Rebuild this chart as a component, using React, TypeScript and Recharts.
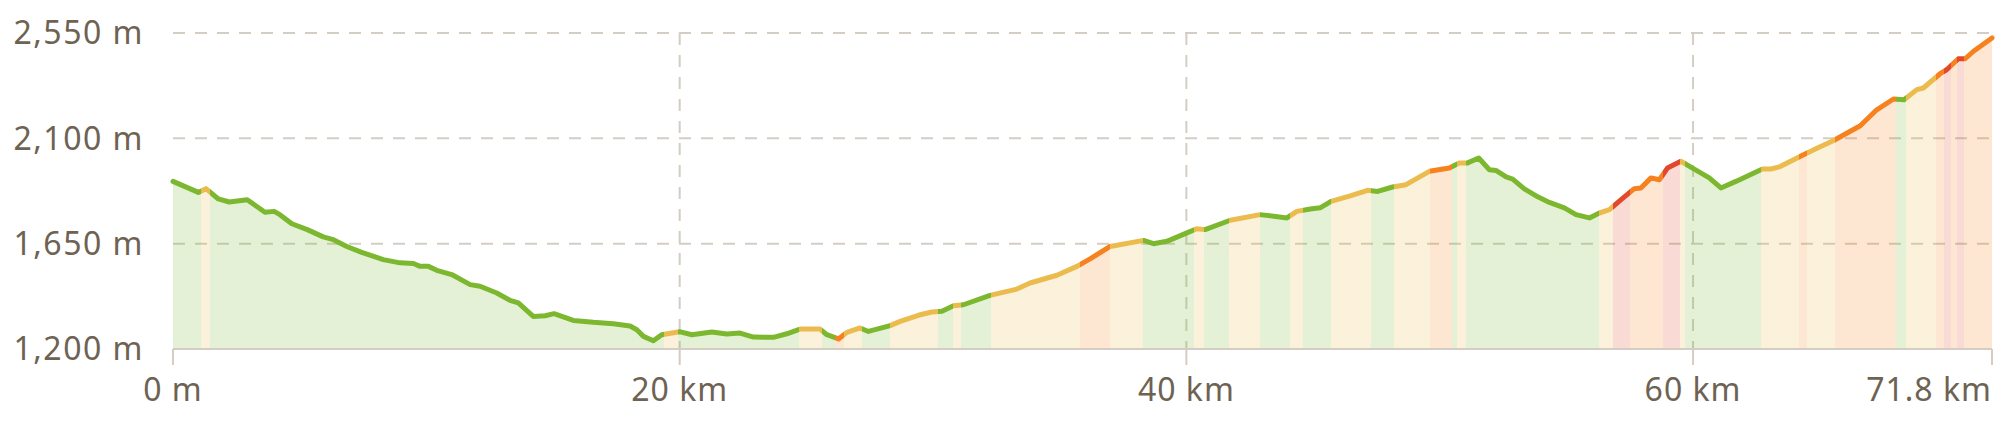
import { AreaChart, Area, XAxis, YAxis, CartesianGrid } from "recharts";

// distance along route (km) and elevation (m)
const distKm = [
  0, 1.0, 1.3, 1.79, 2.22, 2.93, 3.63, 3.99, 4.22, 4.69, 5.3, 5.93, 6.33, 6.86, 7.45, 8.3, 8.96,
  9.49, 9.75, 10.08, 10.41, 11.0, 11.73, 12.12, 12.78, 13.3, 13.63, 14.22, 14.69, 15.04, 15.8,
  16.59, 17.38, 18.04, 18.31, 18.57, 18.96, 19.29, 19.99, 20.48, 21.27, 21.86, 22.38, 22.91,
  23.7, 24.23, 24.75, 25.54, 25.81, 26.27, 26.6, 27.12, 27.45, 28.31, 28.7, 29.42, 29.95, 30.35,
  30.81, 31.2, 32.25, 33.31, 33.83, 34.89, 35.68, 36.2, 36.99, 38.31, 38.7, 39.23, 40.02, 40.41,
  40.74, 41.73, 42.91, 43.97, 44.36, 44.89, 45.28, 45.71, 46.5, 47.15, 47.55, 48.14, 48.67,
  49.59, 50.38, 50.77, 51.1, 51.54, 51.96, 52.22, 52.62, 52.88, 53.34, 53.87, 54.33, 54.92,
  55.38, 55.91, 56.3, 56.7, 57.16, 57.68, 57.94, 58.34, 58.67, 58.99, 59.52, 59.98, 60.64,
  61.1, 61.69, 62.74, 63.07, 63.4, 64.36, 64.89, 65.55, 66.6, 67.25, 67.91, 68.33, 68.83,
  69.09, 69.75, 70.01, 70.47, 70.74, 71.07, 71.8,
];
const elevM = [
  1916, 1869, 1885, 1841, 1828, 1838, 1784, 1788, 1774, 1735, 1710, 1679, 1667, 1638, 1613, 1582, 1568,
  1565, 1553, 1553, 1536, 1518, 1475, 1468, 1439, 1408, 1397, 1339, 1342, 1351, 1322,
  1314, 1308, 1298, 1282, 1254, 1235, 1261, 1274, 1261, 1273, 1264, 1268, 1251,
  1250, 1265, 1285, 1285, 1261, 1243, 1271, 1290, 1275, 1300, 1318, 1344, 1358, 1361,
  1385, 1389, 1429, 1456, 1482, 1515, 1553, 1585, 1638, 1664, 1650, 1660, 1696, 1714,
  1710, 1750, 1774, 1760, 1788, 1798, 1803, 1831, 1855, 1878, 1873, 1892, 1902,
  1959, 1973, 1995, 1995, 2016, 1966, 1963, 1935, 1926, 1884, 1850, 1826, 1803,
  1774, 1760, 1781, 1795, 1838, 1885, 1888, 1931, 1923, 1973, 2002, 1973, 1931,
  1888, 1916, 1969, 1969, 1978, 2030, 2058, 2091, 2154, 2222, 2268, 2265, 2308,
  2315, 2376, 2393, 2440, 2440, 2472, 2529,
];

// slope classes: segment start (km) and level (0 easy .. 3 steep)
const gradeStartKm = [
  0, 1.1, 1.45, 19.4, 19.95, 24.7, 25.6, 26.15, 26.5, 27.2, 28.3, 30.2, 30.8, 31.1, 32.3, 35.8,
  37.0, 38.3, 40.3, 40.7, 41.7, 42.9, 44.1, 44.6, 45.7, 47.3, 48.2, 49.6, 50.5, 50.7, 51.05,
  56.3, 56.85, 57.5, 58.8, 59.5, 59.7, 62.7, 64.2, 64.5, 65.6, 68.0, 68.4, 69.6, 69.9, 70.2,
  70.4, 70.7,
];
const gradeLevel = [
  0, 1, 0, 1, 0, 1, 0, 2, 1, 0, 1, 0, 1, 0, 1, 2,
  1, 0, 1, 0, 1, 0, 1, 0, 1, 0, 1, 2, 0, 1, 0,
  1, 3, 2, 3, 1, 0, 1, 2, 1, 2, 0, 1, 2, 3, 2,
  3, 2,
];
const gradeColors = ["#7cb82f", "#ebbb4e", "#f5821f", "#e2492c"];

const xTicks = [0, 20, 40, 60, 71.8];
const yTicks = [1200, 1650, 2100, 2550];

const totalKm = distKm[distKm.length - 1];
const data = distKm.map((km, i) => ({ km, elev: elevM[i] }));

const textColor = "#6e6253";
const lineGrey = "#d3cdc4";
const font = "'Noto Sans', sans-serif";

const stops = gradeStartKm.flatMap((start, i) => {
  const end = i + 1 < gradeStartKm.length ? gradeStartKm[i + 1] : totalKm;
  const c = gradeColors[gradeLevel[i]];
  return [
    <stop key={`${i}a`} offset={start / totalKm} stopColor={c} />,
    <stop key={`${i}b`} offset={end / totalKm} stopColor={c} />,
  ];
});

const fmtKm = (v: number) => (v === 0 ? "0 m" : `${v} km`);

function XTick(props: any) {
  const { x, y, payload } = props;
  const last = payload.value === totalKm;
  return (
    <text
      x={x}
      y={y}
      dy="0.71em"
      textAnchor={last ? "end" : "middle"}
      fill={textColor}
      fontSize={32}
      letterSpacing={1}
      fontFamily={font}
    >
      {fmtKm(payload.value)}
    </text>
  );
}

export default function App() {
  return (
    <AreaChart
      width={1998}
      height={405}
      data={data}
      margin={{ top: 25, right: 14, left: 0, bottom: 0 }}
    >
      <defs>
        <linearGradient id="grade" x1="0" y1="0" x2="1" y2="0">
          {stops}
        </linearGradient>
      </defs>
      <CartesianGrid
        stroke={lineGrey}
        strokeWidth={2}
        strokeDasharray="12 10"
        horizontalValues={[1650, 2100, 2550]}
        verticalValues={[20, 40, 60]}
      />
      <XAxis
        type="number"
        dataKey="km"
        domain={[0, totalKm]}
        ticks={xTicks}
        interval={0}
        height={64}
        tickSize={16}
        tickMargin={13}
        axisLine={{ stroke: lineGrey, strokeWidth: 2 }}
        tickLine={{ stroke: lineGrey, strokeWidth: 2 }}
        tick={<XTick />}
      />
      <YAxis
        type="number"
        domain={[1200, 2550]}
        ticks={yTicks}
        interval={0}
        width={165}
        axisLine={false}
        tickLine={false}
        tickSize={0}
        tickMargin={29}
        tickFormatter={(v: number) => `${v.toLocaleString("en-US")} m`}
        tick={{ fill: textColor, fontSize: 32, fontFamily: font, letterSpacing: 1.5 }}
      />
      <Area
        type="linear"
        dataKey="elev"
        stroke="url(#grade)"
        strokeWidth={5}
        strokeLinejoin="round"
        strokeLinecap="round"
        fill="url(#grade)"
        fillOpacity={0.2}
        baseValue={1200}
        dot={false}
        activeDot={false}
        isAnimationActive={false}
      />
    </AreaChart>
  );
}
